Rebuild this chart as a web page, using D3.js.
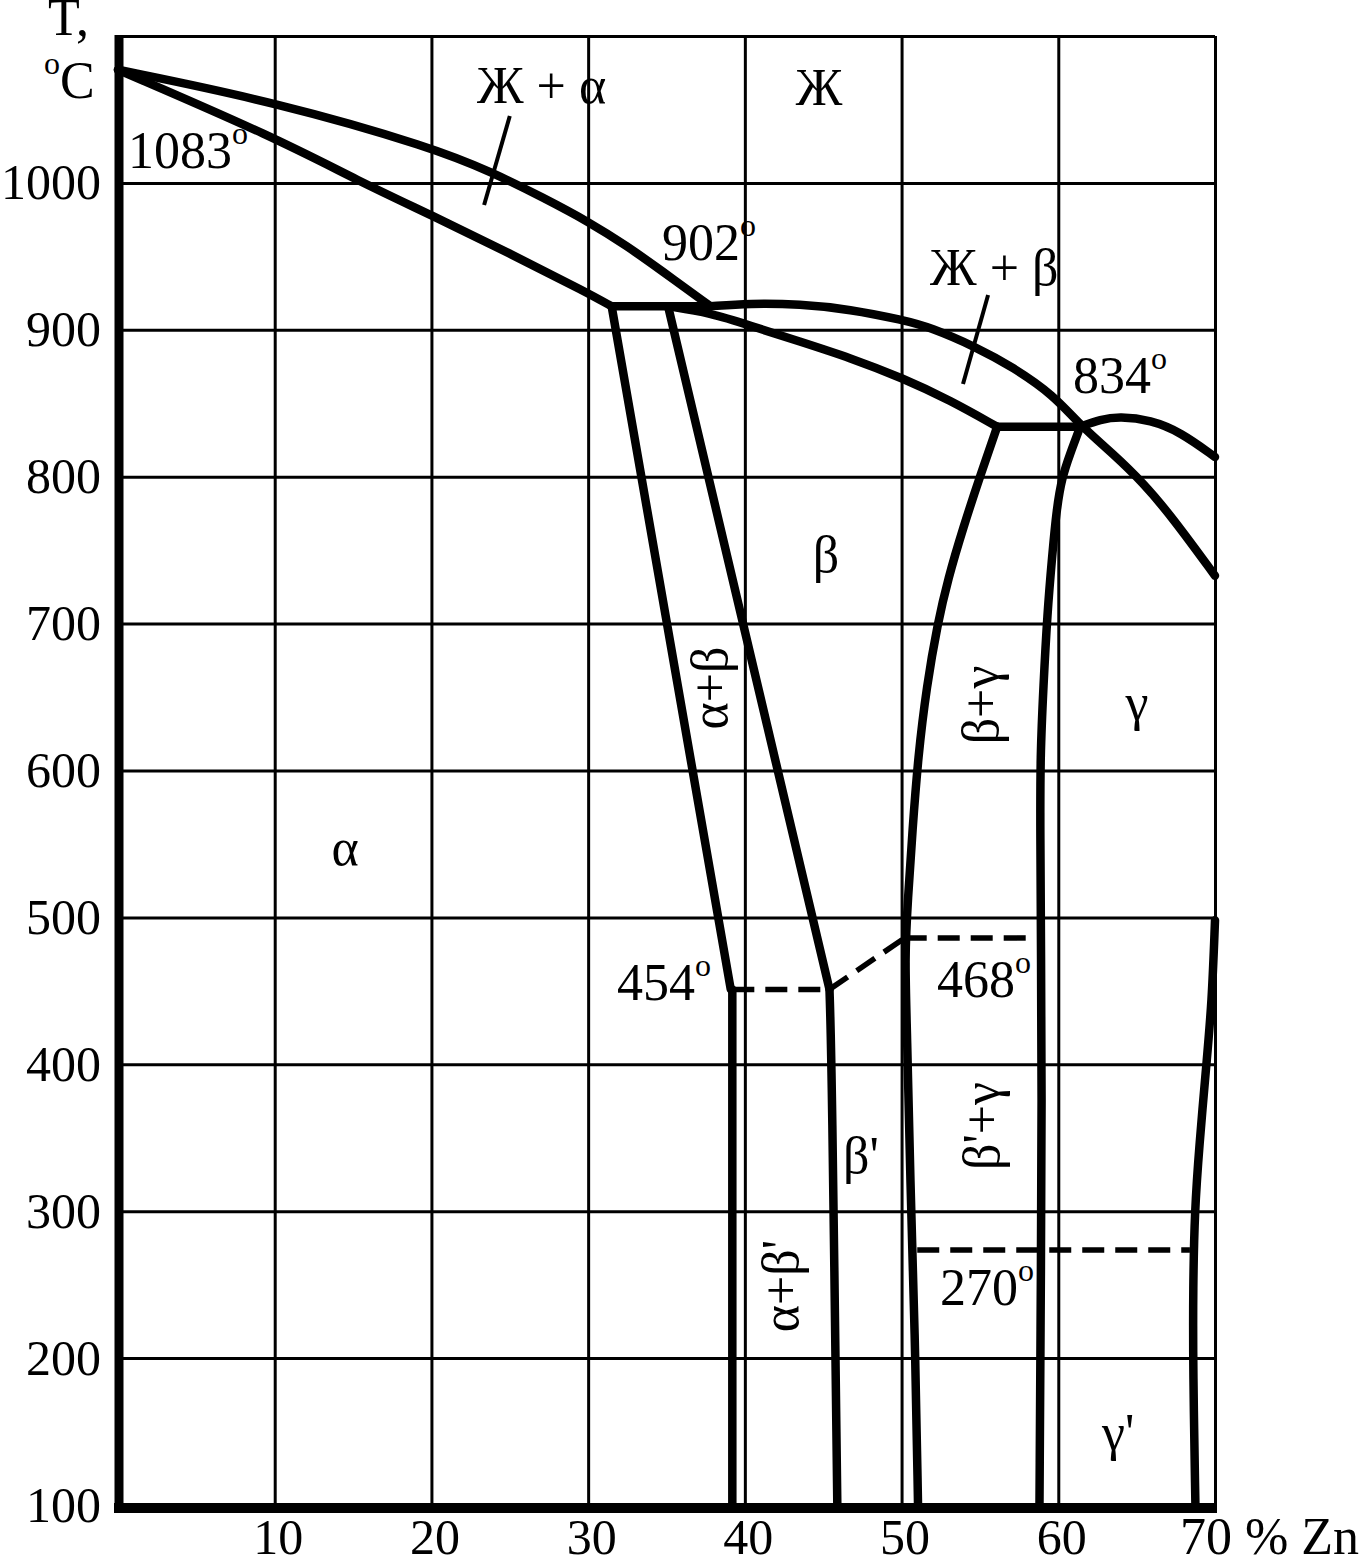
<!DOCTYPE html>
<html><head><meta charset="utf-8">
<script src="https://cdn.jsdelivr.net/npm/d3@7"></script>
<style>
body{margin:0;background:#fff}
svg{display:block;background:#fff}
text{font-family:"Liberation Serif","Times New Roman",serif;fill:#000}
</style>
</head><body>
<svg id="c" width="1368" height="1559"></svg>
<script>
// ---------- data (composition % Zn, temperature °C) ----------
const xGrid = [0,10,20,30,40,50,60,70];
const yGrid = [100,200,300,400,500,600,700,800,900,1000,1100];
const xTickValues = [10,20,30,40,50,60];
const yTickValues = [100,200,300,400,500,600,700,800,900,1000];

const liquidusAlpha = [[0,1077],[10.08,1055],[20.1,1024],[23.93,1007],[27.12,990],[30.12,973],[32.48,957],[34.59,941],[37.8,916]];
const solidusAlpha  = [[0,1077],[10,1031],[15.4,1001],[20,978],[25,952],[30,925],[31.5,916]];
const peritectic902 = [[31.5,916],[37.8,916]];
const alphaBoundary = [[31.5,916],[39.1,451]];
const alphaLow      = [[39.2,451],[39.2,100]];
const betaBoundary  = [[35.1,916],[45.4,451]];
const betaPrimeLeft = [[45.4,451],[45.55,400],[45.9,100]];
const betaSolidus   = [[35.1,916],[37.8,911.5],[40.3,903],[43.5,892],[46.7,881],[50.1,867],[53.1,852],[56.1,834]];
const liquidusBeta  = [[37.8,916],[40.3,918],[43.5,917.5],[46.7,914],[50.1,906.6],[51.8,901.8],[54.8,888],[57.1,874.6],[59.7,855.6],[61.4,835],[63.5,815.5],[65.4,796],[67.3,772],[70,732.6]];
const peritectic834 = [[56.1,834],[61.4,834]];
const gammaLiquidus = [[61.4,834],[62.7,839],[63.9,841],[65.9,838.6],[67.8,830.4],[70,813.4]];
const betaGammaLeft = [[56.1,834],[55.0,800],[53.95,766],[52.95,730],[52.3,700],[51.6,657.5],[51.05,609],[50.7,560],[50.4,512],[50.2,473],[50.35,423],[50.55,321],[50.85,219],[51.05,100]];
const gammaLeft     = [[61.4,834],[60.75,815.5],[60.25,800],[59.9,779],[59.6,745],[59.3,707],[59.05,657.5],[58.85,609],[58.85,560],[58.9,473],[58.95,376],[58.9,273],[58.8,100]];
const gammaRight    = [[70,498],[69.8,442],[69.45,400],[69.0,345],[68.7,300],[68.6,248],[68.6,192],[68.75,100]];

const dashed454  = [[39.2,451],[45.4,451]];
const dashedDiag = [[45.4,451],[50.2,486]];
const dashed468  = [[50.2,486],[58.5,486]];
const dashed270  = [[51.0,273.6],[68.4,273.6]];

const pointerLa = [[25.0,1045.5],[23.36,985]];
const pointerLb = [[55.52,923.7],[53.92,863.1]];

// labels: text, %Zn, °C, superscript, anchor, rotated
const labelText   = ["Ж + α","Ж","Ж + β","1083","902","834","454","468","270","α","β","γ","β'","γ'","α+β","β+γ","β'+γ","α+β'"];
const labelX      = [22.91,44.73,51.82,0.64,34.71,60.94,31.84,52.26,52.45,14.49,45.18,65.03,46.26,62.79,38.86,56.15,56.22,43.39];
const labelT      = [1054.4,1053,930.5,1010,947.5,857,443.8,445.8,236,535.7,735,634.4,326,137.4,656.2,644.6,358,249];
const labelDegree = [false,false,false,true,true,true,true,true,true,false,false,false,false,false,false,false,false,false];
const labelAnchor = ["start","middle","start","start","start","start","start","start","start","middle","middle","middle","start","start","middle","middle","middle","middle"];
const labelRotate = [false,false,false,false,false,false,false,false,false,false,false,false,false,false,true,true,true,true];

// ---------- drawing ----------
const svg = d3.select("#c");
const x = d3.scaleLinear().domain([0,70]).range([118,1215]);
const y = d3.scaleLinear().domain([100,1100]).range([1505,36]);
const FS = 52, TFS = 50;

// grid
const gx = svg.append("g").attr("transform",`translate(0,${y(100)})`)
  .call(d3.axisBottom(x).tickValues(xGrid).tickSize(-(y(100)-y(1100))).tickFormat(""));
gx.select(".domain").remove();
gx.selectAll("line").attr("stroke","#000").attr("stroke-width",3);
const gy = svg.append("g").attr("transform",`translate(${x(0)},0)`)
  .call(d3.axisLeft(y).tickValues(yGrid).tickSize(-(x(70)-x(0))).tickFormat(""));
gy.select(".domain").remove();
gy.selectAll("line").attr("stroke","#000").attr("stroke-width",3);

// tick labels
const ly = svg.append("g").attr("transform",`translate(${x(0)},0)`)
  .call(d3.axisLeft(y).tickValues(yTickValues).tickSize(0).tickPadding(17).tickFormat(d3.format("d")));
ly.select(".domain").remove();
ly.selectAll("text").attr("font-size",TFS).attr("font-family","Liberation Serif").attr("dy","0.32em");
const lx = svg.append("g").attr("transform",`translate(3,${y(100)})`)
  .call(d3.axisBottom(x).tickValues(xTickValues).tickSize(0).tickPadding(13).tickFormat(d3.format("d")));
lx.select(".domain").remove();
lx.selectAll("text").attr("font-size",TFS).attr("font-family","Liberation Serif");
svg.append("text").attr("x",x(70)-35).attr("y",y(100)+49).attr("font-size",FS).text("70 % Zn");

// axis titles
svg.append("text").attr("x",x(0)-70).attr("y",y(1100)-1).attr("font-size",FS).text("T,");
const tc = svg.append("text").attr("x",x(0)-74).attr("y",y(1100)+62).attr("font-size",FS);
tc.append("tspan").attr("font-size",32).attr("dy",-24).text("o");
tc.append("tspan").attr("font-size",FS).attr("dy",24).text("C");

// phase lines
const line = d3.line().x(d=>x(d[0])).y(d=>y(d[1])).curve(d3.curveBasis);
const solid = [liquidusAlpha,solidusAlpha,peritectic902,alphaBoundary,alphaLow,betaBoundary,betaPrimeLeft,
  betaSolidus,liquidusBeta,peritectic834,gammaLiquidus,betaGammaLeft,gammaLeft,gammaRight];
svg.append("g").selectAll("path").data(solid).join("path")
  .attr("d",line).attr("fill","none").attr("stroke","#000").attr("stroke-width",8.5)
  .attr("stroke-linejoin","round").attr("stroke-linecap","round");

const dashed = [dashed454,dashedDiag,dashed468,dashed270];
svg.append("g").selectAll("path").data(dashed).join("path")
  .attr("d",d3.line().x(d=>x(d[0])).y(d=>y(d[1]))).attr("fill","none").attr("stroke","#000")
  .attr("stroke-width",5.5).attr("stroke-dasharray","22,11");

svg.append("g").selectAll("path").data([pointerLa,pointerLb]).join("path")
  .attr("d",d3.line().x(d=>x(d[0])).y(d=>y(d[1]))).attr("fill","none").attr("stroke","#000").attr("stroke-width",4);

// axes (thick)
svg.append("line").attr("x1",x(0)+1).attr("x2",x(0)+1).attr("y1",y(1100)-1).attr("y2",y(100)+8)
  .attr("stroke","#000").attr("stroke-width",9);
svg.append("line").attr("x1",x(0)-4).attr("x2",x(70)+2).attr("y1",y(100)+3).attr("y2",y(100)+3)
  .attr("stroke","#000").attr("stroke-width",10);

// labels
const labels = labelText.map((t,i)=>({t,p:labelX[i],T:labelT[i],deg:labelDegree[i],a:labelAnchor[i],r:labelRotate[i]}));
labels.forEach(d=>{
  const tx = svg.append("text").attr("font-size",FS).attr("text-anchor",d.a);
  if(d.r){
    tx.attr("transform",`translate(${x(d.p)},${y(d.T)}) rotate(-90)`);
  } else {
    tx.attr("x",x(d.p)).attr("y",y(d.T));
  }
  tx.append("tspan").text(d.t);
  if(d.deg) tx.append("tspan").attr("font-size",32).attr("dy",-24).text("o");
});
</script>
</body></html>
